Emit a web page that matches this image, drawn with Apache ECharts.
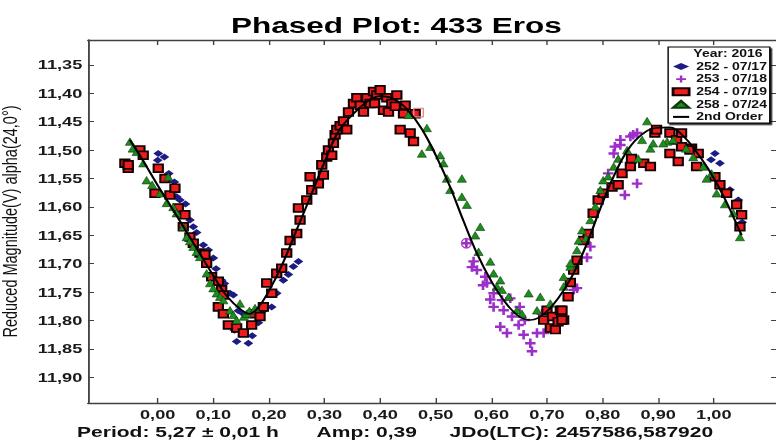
<!DOCTYPE html>
<html><head><meta charset="utf-8">
<script src="https://cdn.jsdelivr.net/npm/echarts/dist/echarts.min.js"></script>
<style>html,body{margin:0;padding:0;overflow:hidden;background:#fff}
#c{width:554px;height:444px;transform:scaleX(1.4007);transform-origin:0 0;}</style>
</head><body><div id="c"></div><script>
const xTicks = [0.0,0.1,0.2,0.3,0.4,0.5,0.6,0.7,0.8,0.9,1.0];
const yTicks = [11.35,11.40,11.45,11.50,11.55,11.60,11.65,11.70,11.75,11.80,11.85,11.90];
const seriesNames = ['252 - 07/17','253 - 07/18','254 - 07/19','258 - 07/24','2nd Order'];
const s252 = [[0.001,11.506],[0.000,11.518],[0.012,11.512],[0.020,11.541],[0.030,11.556],[0.040,11.588],[0.034,11.582],[0.050,11.595],[0.058,11.623],[0.064,11.635],[0.070,11.645],[0.082,11.667],[0.091,11.676],[0.100,11.690],[0.105,11.709],[0.115,11.729],[0.120,11.735],[0.130,11.752],[0.136,11.755],[0.138,11.817],[0.142,11.837],[0.145,11.783],[0.154,11.788],[0.163,11.840],[0.170,11.827],[0.181,11.804],[0.190,11.783],[0.205,11.776],[0.214,11.752],[0.226,11.729],[0.235,11.719],[0.244,11.705],[0.253,11.696],[0.995,11.517],[1.002,11.506],[1.011,11.523],[1.029,11.570],[1.044,11.588],[1.051,11.627]];
const s253 = [[0.555,11.664],[0.565,11.706],[0.568,11.696],[0.574,11.711],[0.585,11.738],[0.589,11.723],[0.592,11.734],[0.598,11.763],[0.604,11.752],[0.619,11.764],[0.634,11.761],[0.604,11.776],[0.622,11.782],[0.637,11.793],[0.616,11.811],[0.628,11.822],[0.649,11.808],[0.658,11.825],[0.670,11.840],[0.682,11.822],[0.673,11.854],[0.694,11.822],[0.660,11.799],[0.651,11.776],[0.691,11.788],[0.748,11.746],[0.754,11.743],[0.772,11.689],[0.778,11.670],[0.810,11.541],[0.840,11.579],[0.862,11.559],[0.820,11.506],[0.832,11.491],[0.850,11.476],[0.862,11.470],[0.855,11.473],[0.832,11.482],[0.822,11.494]];
const s254 = [[-0.059,11.523],[-0.053,11.532],[-0.053,11.526],[-0.032,11.500],[-0.026,11.509],[0.001,11.532],[-0.005,11.576],[0.013,11.550],[0.022,11.579],[0.031,11.567],[0.037,11.602],[0.049,11.614],[0.046,11.635],[0.058,11.653],[0.064,11.664],[0.076,11.681],[0.085,11.684],[0.088,11.699],[0.097,11.723],[0.109,11.731],[0.115,11.746],[0.118,11.755],[0.109,11.776],[0.118,11.788],[0.127,11.808],[0.142,11.813],[0.154,11.822],[0.169,11.808],[0.172,11.788],[0.190,11.776],[0.184,11.793],[0.196,11.734],[0.205,11.752],[0.214,11.717],[0.223,11.708],[0.232,11.681],[0.238,11.659],[0.250,11.647],[0.256,11.623],[0.253,11.602],[0.268,11.588],[0.277,11.570],[0.289,11.559],[0.274,11.547],[0.298,11.544],[0.295,11.526],[0.304,11.512],[0.307,11.500],[0.319,11.473],[0.322,11.464],[0.313,11.509],[0.316,11.488],[0.328,11.457],[0.340,11.464],[0.334,11.449],[0.343,11.433],[0.352,11.418],[0.358,11.408],[0.364,11.421],[0.370,11.433],[0.376,11.408],[0.382,11.418],[0.388,11.397],[0.390,11.418],[0.394,11.403],[0.400,11.394],[0.406,11.430],[0.412,11.408],[0.415,11.433],[0.421,11.418],[0.427,11.423],[0.430,11.403],[0.445,11.421],[0.442,11.436],[0.463,11.436],[0.436,11.464],[0.454,11.470],[0.460,11.485],[0.694,11.799],[0.706,11.813],[0.715,11.816],[0.700,11.782],[0.710,11.793],[0.720,11.802],[0.724,11.782],[0.730,11.799],[0.727,11.782],[0.727,11.799],[0.738,11.758],[0.742,11.733],[0.748,11.711],[0.754,11.694],[0.766,11.659],[0.774,11.647],[0.783,11.611],[0.792,11.588],[0.801,11.576],[0.817,11.565],[0.828,11.561],[0.835,11.541],[0.850,11.529],[0.852,11.515],[0.874,11.523],[0.886,11.529],[0.894,11.470],[0.897,11.464],[0.921,11.470],[0.933,11.482],[0.942,11.494],[0.942,11.470],[0.960,11.497],[0.921,11.506],[0.936,11.520],[0.957,11.500],[0.972,11.506],[0.969,11.529],[1.002,11.547],[1.011,11.561],[1.023,11.576],[1.041,11.596],[1.050,11.614],[1.047,11.635]];
const s258 = [[-0.050,11.485],[-0.045,11.497],[-0.038,11.503],[-0.026,11.523],[-0.020,11.553],[-0.010,11.561],[0.004,11.576],[0.016,11.593],[0.019,11.547],[0.028,11.600],[0.034,11.611],[0.046,11.635],[0.052,11.653],[0.058,11.660],[0.064,11.670],[0.070,11.679],[0.076,11.688],[0.088,11.717],[0.094,11.734],[0.100,11.743],[0.106,11.752],[0.112,11.758],[0.118,11.764],[0.130,11.782],[0.136,11.790],[0.142,11.799],[0.148,11.770],[0.155,11.793],[0.160,11.788],[0.165,11.783],[0.175,11.778],[0.451,11.438],[0.484,11.461],[0.475,11.506],[0.490,11.494],[0.508,11.509],[0.514,11.523],[0.520,11.550],[0.547,11.550],[0.526,11.570],[0.547,11.582],[0.556,11.596],[0.580,11.635],[0.571,11.650],[0.577,11.679],[0.598,11.696],[0.604,11.717],[0.616,11.729],[0.610,11.740],[0.619,11.746],[0.631,11.758],[0.667,11.752],[0.646,11.782],[0.655,11.788],[0.682,11.782],[0.688,11.758],[0.706,11.770],[0.730,11.740],[0.742,11.705],[0.757,11.659],[0.730,11.723],[0.742,11.699],[0.754,11.676],[0.763,11.641],[0.770,11.655],[0.778,11.623],[0.787,11.599],[0.796,11.570],[0.801,11.553],[0.810,11.546],[0.820,11.529],[0.828,11.515],[0.844,11.500],[0.864,11.515],[0.871,11.482],[0.886,11.497],[0.880,11.449],[0.891,11.488],[0.916,11.485],[0.909,11.488],[0.927,11.482],[0.950,11.497],[0.963,11.512],[0.981,11.529],[0.987,11.550],[0.996,11.541],[1.005,11.576],[1.020,11.595],[1.035,11.611],[1.047,11.653]];
const fit = [[-0.05,11.482],[-0.025,11.521],[0.0,11.562],[0.025,11.601],[0.05,11.641],[0.075,11.681],[0.1,11.721],[0.125,11.758],[0.15,11.781],[0.165,11.788],[0.18,11.778],[0.2,11.748],[0.225,11.699],[0.25,11.640],[0.275,11.581],[0.3,11.521],[0.325,11.467],[0.35,11.438],[0.375,11.416],[0.4,11.405],[0.425,11.410],[0.45,11.430],[0.475,11.463],[0.5,11.509],[0.525,11.563],[0.55,11.625],[0.575,11.684],[0.6,11.731],[0.625,11.768],[0.65,11.793],[0.67,11.799],[0.695,11.788],[0.72,11.761],[0.745,11.722],[0.77,11.669],[0.795,11.605],[0.82,11.546],[0.845,11.500],[0.87,11.473],[0.895,11.461],[0.92,11.460],[0.945,11.475],[0.97,11.505],[0.995,11.541],[1.02,11.586],[1.05,11.650]];
const markedSquare = [[0.469,11.434]];
const markedCircle = [[0.555,11.664]];
const infoTexts = ['Period: 5,27 \u00b1 0,01 h','Amp: 0,39','JDo(LTC): 2457586,587920'];

const FONT = '"Liberation Sans", Arial, sans-serif';
const fmt = v => Number(v).toFixed(2).replace('.', ',');
const frame = {color:'#404040', width:1.3};
const PLUS = 'path://M3,0H5V3H8V5H5V8H3V5H0V3H3Z';
const xMin = -0.1254, xMax = 1.1138, yMin = 11.3062, yMax = 11.9452;

const chart = echarts.init(document.getElementById('c'), null, {renderer:'svg'});
const tickLabel = {fontFamily:FONT, fontSize:13, fontWeight:'bold', color:'#1a1a1a'};
const legendData = seriesNames.map((n, i) => i === 4 ? {name:n, itemStyle:{opacity:0}} : {name:n});
chart.setOption({
  animation:false,
  title:{text:'Phased Plot: 433 Eros', left:278, top:9, textAlign:'center',
    textStyle:{fontFamily:FONT, fontSize:22.5, fontWeight:'bold', color:'#000'}},
  grid:{left:62.8, top:40, width:492, height:363, containLabel:false, outerBoundsMode:'none'},
  xAxis:[
    {type:'value', min:xMin, max:xMax, position:'bottom',
     axisLine:{show:true, onZero:false, lineStyle:frame},
     axisTick:{show:true, inside:true, length:5, customValues:xTicks, lineStyle:{color:'#404040'}},
     axisLabel:Object.assign({customValues:xTicks, formatter:fmt, margin:5}, tickLabel),
     splitLine:{show:false}},
    {type:'value', min:xMin, max:xMax, position:'top',
     axisLine:{show:true, onZero:false, lineStyle:frame},
     axisTick:{show:true, inside:true, length:5, customValues:xTicks, lineStyle:{color:'#404040'}},
     axisLabel:{show:false}, splitLine:{show:false}}
  ],
  yAxis:[
    {type:'value', inverse:true, min:yMin, max:yMax, position:'left',
     name:'Reduced Magnitude(V) alpha(24,0\u00b0)', nameLocation:'middle', nameGap:48, nameRotate:90,
     nameTextStyle:{fontFamily:FONT, fontSize:14.5, color:'#111'},
     axisLine:{show:true, onZero:false, lineStyle:frame},
     axisTick:{show:true, inside:true, length:4.3, customValues:yTicks, lineStyle:{color:'#404040'}},
     axisLabel:Object.assign({customValues:yTicks, formatter:fmt, margin:4}, tickLabel),
     splitLine:{show:false}},
    {type:'value', inverse:true, min:yMin, max:yMax, position:'right',
     axisLine:{show:true, onZero:false, lineStyle:frame},
     axisTick:{show:true, inside:true, length:4.3, customValues:yTicks, lineStyle:{color:'#404040'}},
     axisLabel:{show:false}, splitLine:{show:false}}
  ],
  legend:{left:477, top:47, orient:'vertical', padding:[13.5,2,0,2.5],
    itemWidth:11.5, itemHeight:7, itemGap:0.6,
    backgroundColor:'#fff', borderColor:'#000', borderWidth:1,
    shadowColor:'rgba(0,0,0,0.85)', shadowOffsetX:1.2, shadowOffsetY:1.6, shadowBlur:0,
    textStyle:{fontFamily:FONT, fontSize:10, fontWeight:'bold', color:'#111', lineHeight:12},
    data:legendData},
  graphic:[
    {type:'text', right:554-544.5, top:48.5, z:100, style:{text:'Year: 2016', fontFamily:FONT, fontSize:10, fontWeight:'bold', fill:'#111'}},
    {type:'text', left:55, top:424, z:100, style:{text:infoTexts[0], fontFamily:FONT, fontSize:15, fontWeight:'bold', fill:'#111'}},
    {type:'text', left:226, top:424, z:100, style:{text:infoTexts[1], fontFamily:FONT, fontSize:15, fontWeight:'bold', fill:'#111'}},
    {type:'text', left:321, top:424, z:100, style:{text:infoTexts[2], fontFamily:FONT, fontSize:15, fontWeight:'bold', fill:'#111'}}
  ],
  series:[
    {name:seriesNames[0], type:'scatter', data:s252, symbol:'diamond', symbolSize:[7,7], itemStyle:{color:'#1c1c84', opacity:1}},
    {name:seriesNames[1], type:'scatter', data:s253, symbol:PLUS, symbolSize:[7.5,9.5], itemStyle:{color:'#9d2fc9', opacity:1}},
    {name:seriesNames[2], type:'scatter', data:s254, symbol:'rect', symbolSize:[6.6,7.8], itemStyle:{color:'#ee1c1c', borderColor:'#140000', borderWidth:1.6, opacity:1}},
    {name:seriesNames[3], type:'scatter', data:s258, symbol:'triangle', symbolSize:[6.5,7.5], itemStyle:{color:'#1e8c1e', borderColor:'#0b3a0b', borderWidth:0.5, opacity:1}},
    {name:'marked 254', type:'scatter', data:markedSquare, symbol:'rect', symbolSize:[6.8,8.5], itemStyle:{color:'rgba(255,255,255,0)', borderColor:'#f08a8a', borderWidth:1.1, opacity:1}},
    {name:'marked 253', type:'scatter', data:markedCircle, symbol:'circle', symbolSize:[7,9.5], itemStyle:{color:'rgba(255,255,255,0)', borderColor:'#b040c8', borderWidth:1.1, opacity:1}},
    {name:seriesNames[4], type:'line', data:fit, symbol:'none', smooth:0.4, lineStyle:{color:'#000', width:1.6}, itemStyle:{color:'#000'}}
  ]
});
</script></body></html>
